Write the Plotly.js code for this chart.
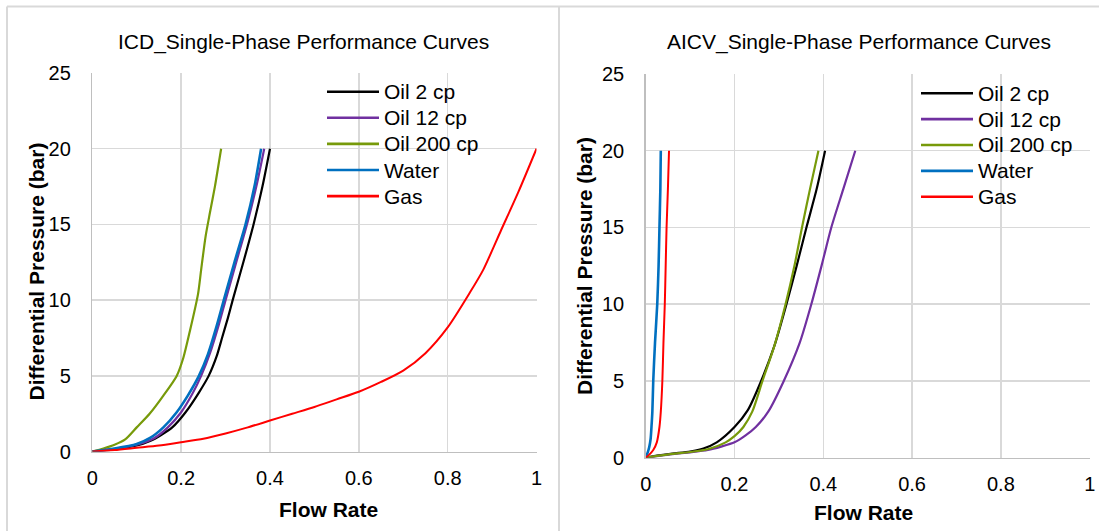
<!DOCTYPE html>
<html>
<head>
<meta charset="utf-8">
<script src="https://cdn.plot.ly/plotly-3.0.1.min.js"></script>
<style>html,body{margin:0;padding:0;background:#fff;}#chart{width:1099px;height:531px;}</style>
</head>
<body>
<div id="chart"></div>
<script>
// ---------- data ----------
const seriesNames = ["Oil 2 cp", "Oil 12 cp", "Oil 200 cp", "Water", "Gas"];
const xTickVals = [0, 0.2, 0.4, 0.6, 0.8, 1];
const xTickText = ["0", "0.2", "0.4", "0.6", "0.8", "1"];
const yTickVals = [0, 5, 10, 15, 20, 25];
const yTickText = ["0", "5", "10", "15", "20", "25"];

// ICD chart
const icdOil2X = [0, 0.05, 0.1, 0.13, 0.155, 0.18, 0.21, 0.24, 0.262, 0.28, 0.292, 0.305, 0.316, 0.34, 0.363, 0.383, 0.4];
const icdOil2Y = [0, 0.15, 0.4, 0.7, 1.1, 1.6, 2.6, 3.9, 5, 6.3, 7.5, 8.8, 10, 12.5, 15, 17.5, 20];
const icdOil12X = [0, 0.05, 0.1, 0.14, 0.17, 0.2, 0.225, 0.245, 0.265, 0.285, 0.3, 0.325, 0.35, 0.37, 0.387];
const icdOil12Y = [0, 0.18, 0.45, 0.9, 1.6, 2.6, 3.8, 5, 6.5, 8.4, 10, 12.6, 15.2, 17.6, 20];
const icdOil200X = [0, 0.025, 0.05, 0.074, 0.1, 0.129, 0.16, 0.19, 0.205, 0.22, 0.238, 0.245, 0.255, 0.265, 0.276, 0.29];
const icdOil200Y = [0, 0.2, 0.45, 0.8, 1.6, 2.5, 3.7, 5, 6.2, 8, 10.4, 12, 14.2, 15.8, 17.5, 20];
const icdWaterX = [0, 0.05, 0.1, 0.13, 0.16, 0.19, 0.215, 0.24, 0.26, 0.28, 0.296, 0.32, 0.345, 0.365, 0.38];
const icdWaterY = [0, 0.2, 0.5, 0.9, 1.6, 2.6, 3.7, 5, 6.4, 8.3, 10, 12.5, 15, 17.5, 20];
const icdGasX = [0, 0.05, 0.1, 0.15, 0.2, 0.25, 0.3, 0.35, 0.4, 0.45, 0.5, 0.55, 0.6, 0.65, 0.7, 0.75, 0.8, 0.85, 0.88, 0.92, 0.96, 1];
const icdGasY = [0, 0.1, 0.25, 0.4, 0.62, 0.85, 1.2, 1.6, 2.05, 2.5, 2.95, 3.45, 3.95, 4.6, 5.35, 6.5, 8.2, 10.5, 12, 14.6, 17.2, 20];

// AICV chart
const aicvOil2X = [0, 0.03, 0.06, 0.1, 0.13, 0.16, 0.2, 0.23, 0.26, 0.29, 0.317, 0.34, 0.362, 0.385, 0.404];
const aicvOil2Y = [0, 0.15, 0.27, 0.4, 0.6, 1, 2, 3.1, 5, 7.3, 10, 12.5, 15, 17.5, 20];
const aicvOil12X = [0, 0.03, 0.06, 0.1, 0.14, 0.17, 0.2, 0.225, 0.248, 0.276, 0.311, 0.347, 0.373, 0.396, 0.418, 0.445, 0.472];
const aicvOil12Y = [0, 0.12, 0.23, 0.35, 0.5, 0.72, 1, 1.45, 2, 3, 5, 7.5, 10, 12.5, 15, 17.5, 20];
const aicvOil200X = [0, 0.03, 0.06, 0.1, 0.14, 0.18, 0.2, 0.22, 0.24, 0.263, 0.29, 0.315, 0.335, 0.352, 0.37, 0.389];
const aicvOil200Y = [0, 0.13, 0.25, 0.37, 0.55, 1, 1.4, 2, 3, 5, 7.3, 10, 12.5, 15, 17.5, 20];
const aicvWaterX = [0, 0.004, 0.008, 0.011, 0.013, 0.015, 0.017, 0.021, 0.026, 0.029, 0.031, 0.033, 0.034];
const aicvWaterY = [0, 0.3, 0.7, 1.2, 2, 3, 5, 7.5, 10, 12.5, 15, 17.5, 20];
const aicvGasX = [0, 0.008, 0.017, 0.025, 0.031, 0.034, 0.0375, 0.04, 0.043, 0.045, 0.047, 0.05, 0.0525];
const aicvGasY = [0, 0.2, 0.5, 1, 2, 3, 5, 7.5, 10, 12.5, 15, 17.5, 20];

// ---------- styles ----------
const colors = ["#000000", "#7030a0", "#779a0a", "#0070c0", "#ff0000"];
const widths = [2.2, 2.2, 2.2, 2.6, 2.0];
const FONT = "Liberation Sans, Arial, sans-serif";
const W = 1099, H = 531;
const px = v => v / W;
const py = v => 1 - v / H;

const icdX = [icdOil2X, icdOil12X, icdOil200X, icdWaterX, icdGasX];
const icdY = [icdOil2Y, icdOil12Y, icdOil200Y, icdWaterY, icdGasY];
const aicvX = [aicvOil2X, aicvOil12X, aicvOil200X, aicvWaterX, aicvGasX];
const aicvY = [aicvOil2Y, aicvOil12Y, aicvOil200Y, aicvWaterY, aicvGasY];

const traces = [];
seriesNames.forEach((n, i) => {
  traces.push({x: icdX[i], y: icdY[i], name: n, mode: "lines", xaxis: "x", yaxis: "y",
    line: {color: colors[i], width: widths[i], shape: "spline", smoothing: 0.7}, showlegend: false, hoverinfo: "x+y+name"});
});
seriesNames.forEach((n, i) => {
  traces.push({x: aicvX[i], y: aicvY[i], name: n, mode: "lines", xaxis: "x2", yaxis: "y2",
    line: {color: colors[i], width: widths[i], shape: "spline", smoothing: 0.7}, showlegend: false, hoverinfo: "x+y+name"});
});

function xAx(domain, anchor) {
  return {domain: domain, anchor: anchor, range: [0, 1], tickvals: xTickVals, ticktext: xTickText,
    showgrid: true, gridcolor: "#d9d9d9", gridwidth: 1.5, zeroline: false,
    showline: true, linecolor: "#bfbfbf", linewidth: 1.5, ticks: "", ticklabelstandoff: 8,
    tickfont: {family: FONT, size: 20, color: "#000"}, fixedrange: true};
}
function yAx(domain, anchor) {
  return {domain: domain, anchor: anchor, range: [0, 25], tickvals: yTickVals, ticktext: yTickText,
    showgrid: true, gridcolor: "#d9d9d9", gridwidth: 1.5, zeroline: false,
    showline: true, linecolor: "#bfbfbf", linewidth: 1.5, ticks: "", ticklabelstandoff: 16,
    tickfont: {family: FONT, size: 20, color: "#000"}, fixedrange: true};
}

const shapes = [
  {type: "line", xref: "paper", yref: "paper", x0: px(7), x1: px(1099), y0: py(6.5), y1: py(6.5), line: {color: "#d9d9d9", width: 2}},
  {type: "line", xref: "paper", yref: "paper", x0: px(7), x1: px(7), y0: py(6.5), y1: 0, line: {color: "#d9d9d9", width: 2}},
  {type: "line", xref: "paper", yref: "paper", x0: px(559), x1: px(559), y0: py(6.5), y1: 0, line: {color: "#d9d9d9", width: 2}}
];
const annotations = [];
function txt(t, x, y, opts) {
  annotations.push(Object.assign({text: t, xref: "paper", yref: "paper", x: px(x), y: py(y), showarrow: false,
    xanchor: "center", yanchor: "middle", font: {family: FONT, size: 21, color: "#000"}}, opts || {}));
}
// titles
txt("ICD_Single-Phase Performance Curves", 303.5, 42);
txt("AICV_Single-Phase Performance Curves", 858.7, 42);
// axis titles
txt("<b>Flow Rate</b>", 328.5, 509);
txt("<b>Flow Rate</b>", 863, 512);
txt("<b>Differential Pressure (bar)</b>", 36, 271.5, {textangle: -90});
txt("<b>Differential Pressure (bar)</b>", 584, 266, {textangle: -90});

// legends
function legend(lx0, lx1, tx, y0, step) {
  seriesNames.forEach((n, i) => {
    const y = y0 + i * step;
    shapes.push({type: "line", xref: "paper", yref: "paper", x0: px(lx0), x1: px(lx1), y0: py(y), y1: py(y),
      line: {color: colors[i], width: 2.6}});
    txt(n, tx, y, {xanchor: "left"});
  });
}
legend(327, 379, 382, 91.7, 26.1);
legend(921, 973, 976, 93.3, 25.85);

const layout = {
  width: W, height: H, margin: {l: 0, r: 0, t: 0, b: 0, pad: 0},
  paper_bgcolor: "#fff", plot_bgcolor: "#fff", showlegend: false,
  xaxis: xAx([px(92.3), px(536.5)], "y"),
  yaxis: yAx([py(451.6), py(73)], "x"),
  xaxis2: xAx([px(645.7), px(1089.7)], "y2"),
  yaxis2: yAx([py(457.7), py(74)], "x2"),
  shapes: shapes, annotations: annotations
};
Plotly.newPlot("chart", traces, layout, {displayModeBar: false, staticPlot: true});
</script>
</body>
</html>
